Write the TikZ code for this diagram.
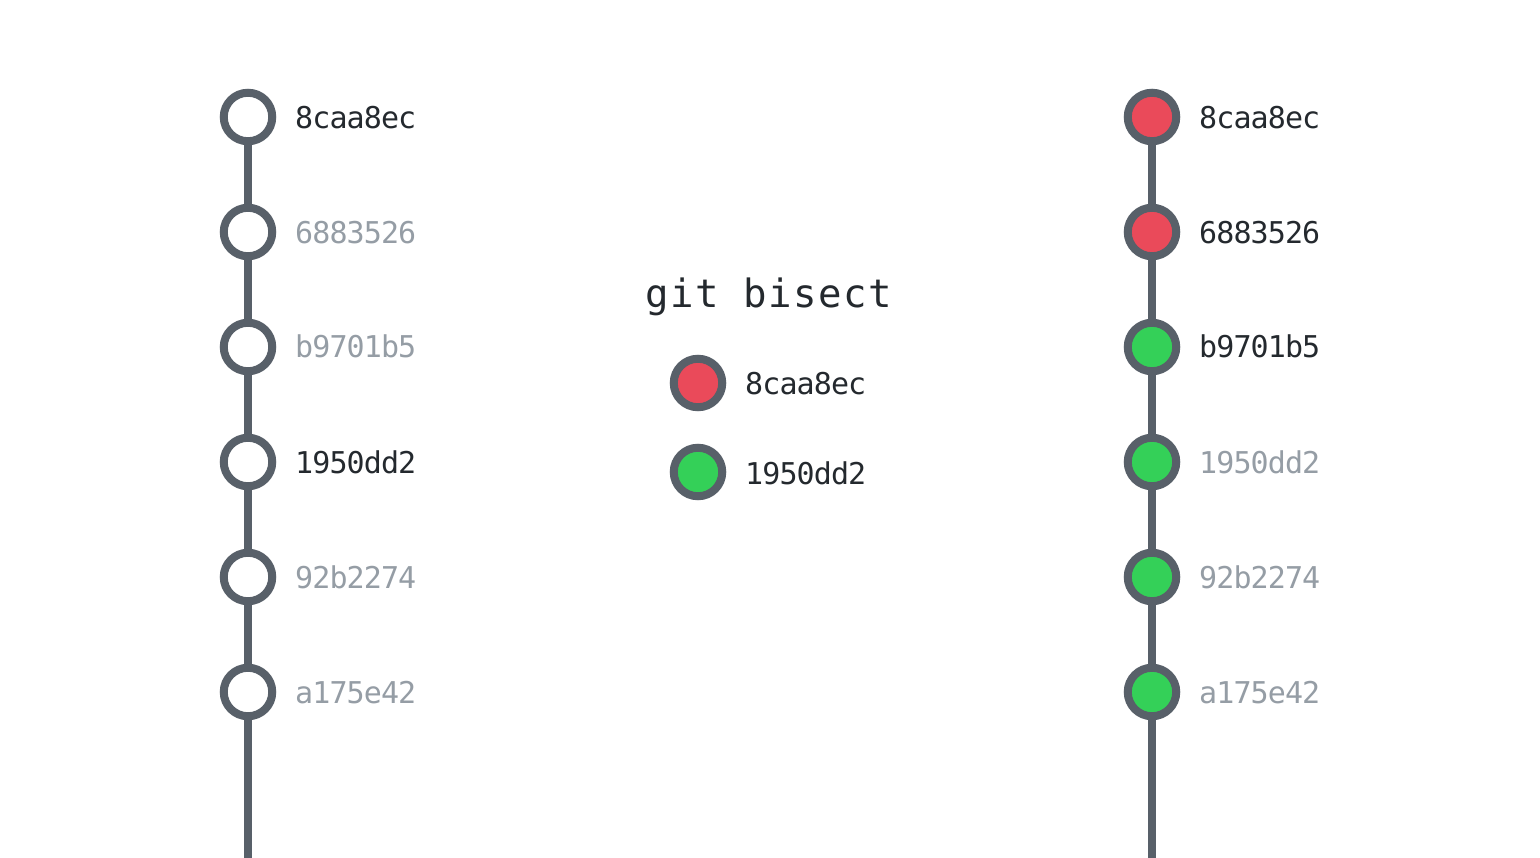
\documentclass[tikz,border=0pt]{standalone}
\usepackage{fontspec}
\newfontfamily\lblfont{DejaVu Sans Mono}[LetterSpace=-3]
\newfontfamily\ttlfont{DejaVu Sans Mono}[LetterSpace=4]
\definecolor{edge}{HTML}{586069}
\definecolor{bad}{HTML}{EA4A5A}
\definecolor{good}{HTML}{34D058}
\definecolor{dark}{HTML}{24292E}
\definecolor{faint}{HTML}{959DA5}
\tikzset{
  commit/.style={circle, draw=edge, line width=8pt, minimum size=48.5pt, inner sep=0pt, fill=white},
  badc/.style={commit, fill=bad},
  goodc/.style={commit, fill=good},
  link/.style={draw=edge, line width=7.5pt},
  lbl/.style={anchor=base west, inner sep=0pt, font=\fontsize{30}{30}\selectfont\lblfont},
  on/.style={lbl, text=dark},
  off/.style={lbl, text=faint},
  title/.style={anchor=base west, inner sep=0pt, text=dark, font=\fontsize{39}{39}\selectfont\ttlfont}
}
\begin{document}
\begin{tikzpicture}[x=1pt,y=-1pt]
\useasboundingbox[fill=white] (0,0) rectangle (1540,858);
% left column
\coordinate (lend) at (248,858);
\node[commit] (l1) at (248,117) {};
\node[commit] (l2) at (248,232) {};
\node[commit] (l3) at (248,347) {};
\node[commit] (l4) at (248,462) {};
\node[commit] (l5) at (248,577) {};
\node[commit] (l6) at (248,692) {};
\draw[link] (l1) -- (l2);
\draw[link] (l2) -- (l3);
\draw[link] (l3) -- (l4);
\draw[link] (l4) -- (l5);
\draw[link] (l5) -- (l6);
\draw[link] (l6) -- (lend);
\node[on]  (tl1) at (295,129) {8caa8ec};
\node[off] (tl2) at (295,244) {6883526};
\node[off] (tl3) at (295,358) {b9701b5};
\node[on]  (tl4) at (295,473) {1950dd2};
\node[off] (tl5) at (295,588) {92b2274};
\node[off] (tl6) at (295,703) {a175e42};
% right column
\coordinate (rend) at (1152,858);
\node[badc]  (r1) at (1152,117) {};
\node[badc]  (r2) at (1152,232) {};
\node[goodc] (r3) at (1152,347) {};
\node[goodc] (r4) at (1152,462) {};
\node[goodc] (r5) at (1152,577) {};
\node[goodc] (r6) at (1152,692) {};
\draw[link] (r1) -- (r2);
\draw[link] (r2) -- (r3);
\draw[link] (r3) -- (r4);
\draw[link] (r4) -- (r5);
\draw[link] (r5) -- (r6);
\draw[link] (r6) -- (rend);
\node[on]  (tr1) at (1199,129) {8caa8ec};
\node[on]  (tr2) at (1199,244) {6883526};
\node[on]  (tr3) at (1199,358) {b9701b5};
\node[off] (tr4) at (1199,473) {1950dd2};
\node[off] (tr5) at (1199,588) {92b2274};
\node[off] (tr6) at (1199,703) {a175e42};
% middle legend
\node[title] (ttl) at (645,308) {git bisect};
\node[badc]  (m1) at (698,383) {};
\node[goodc] (m2) at (698,472) {};
\node[on] (tm1) at (745,395) {8caa8ec};
\node[on] (tm2) at (745,484) {1950dd2};
\end{tikzpicture}
\end{document}
